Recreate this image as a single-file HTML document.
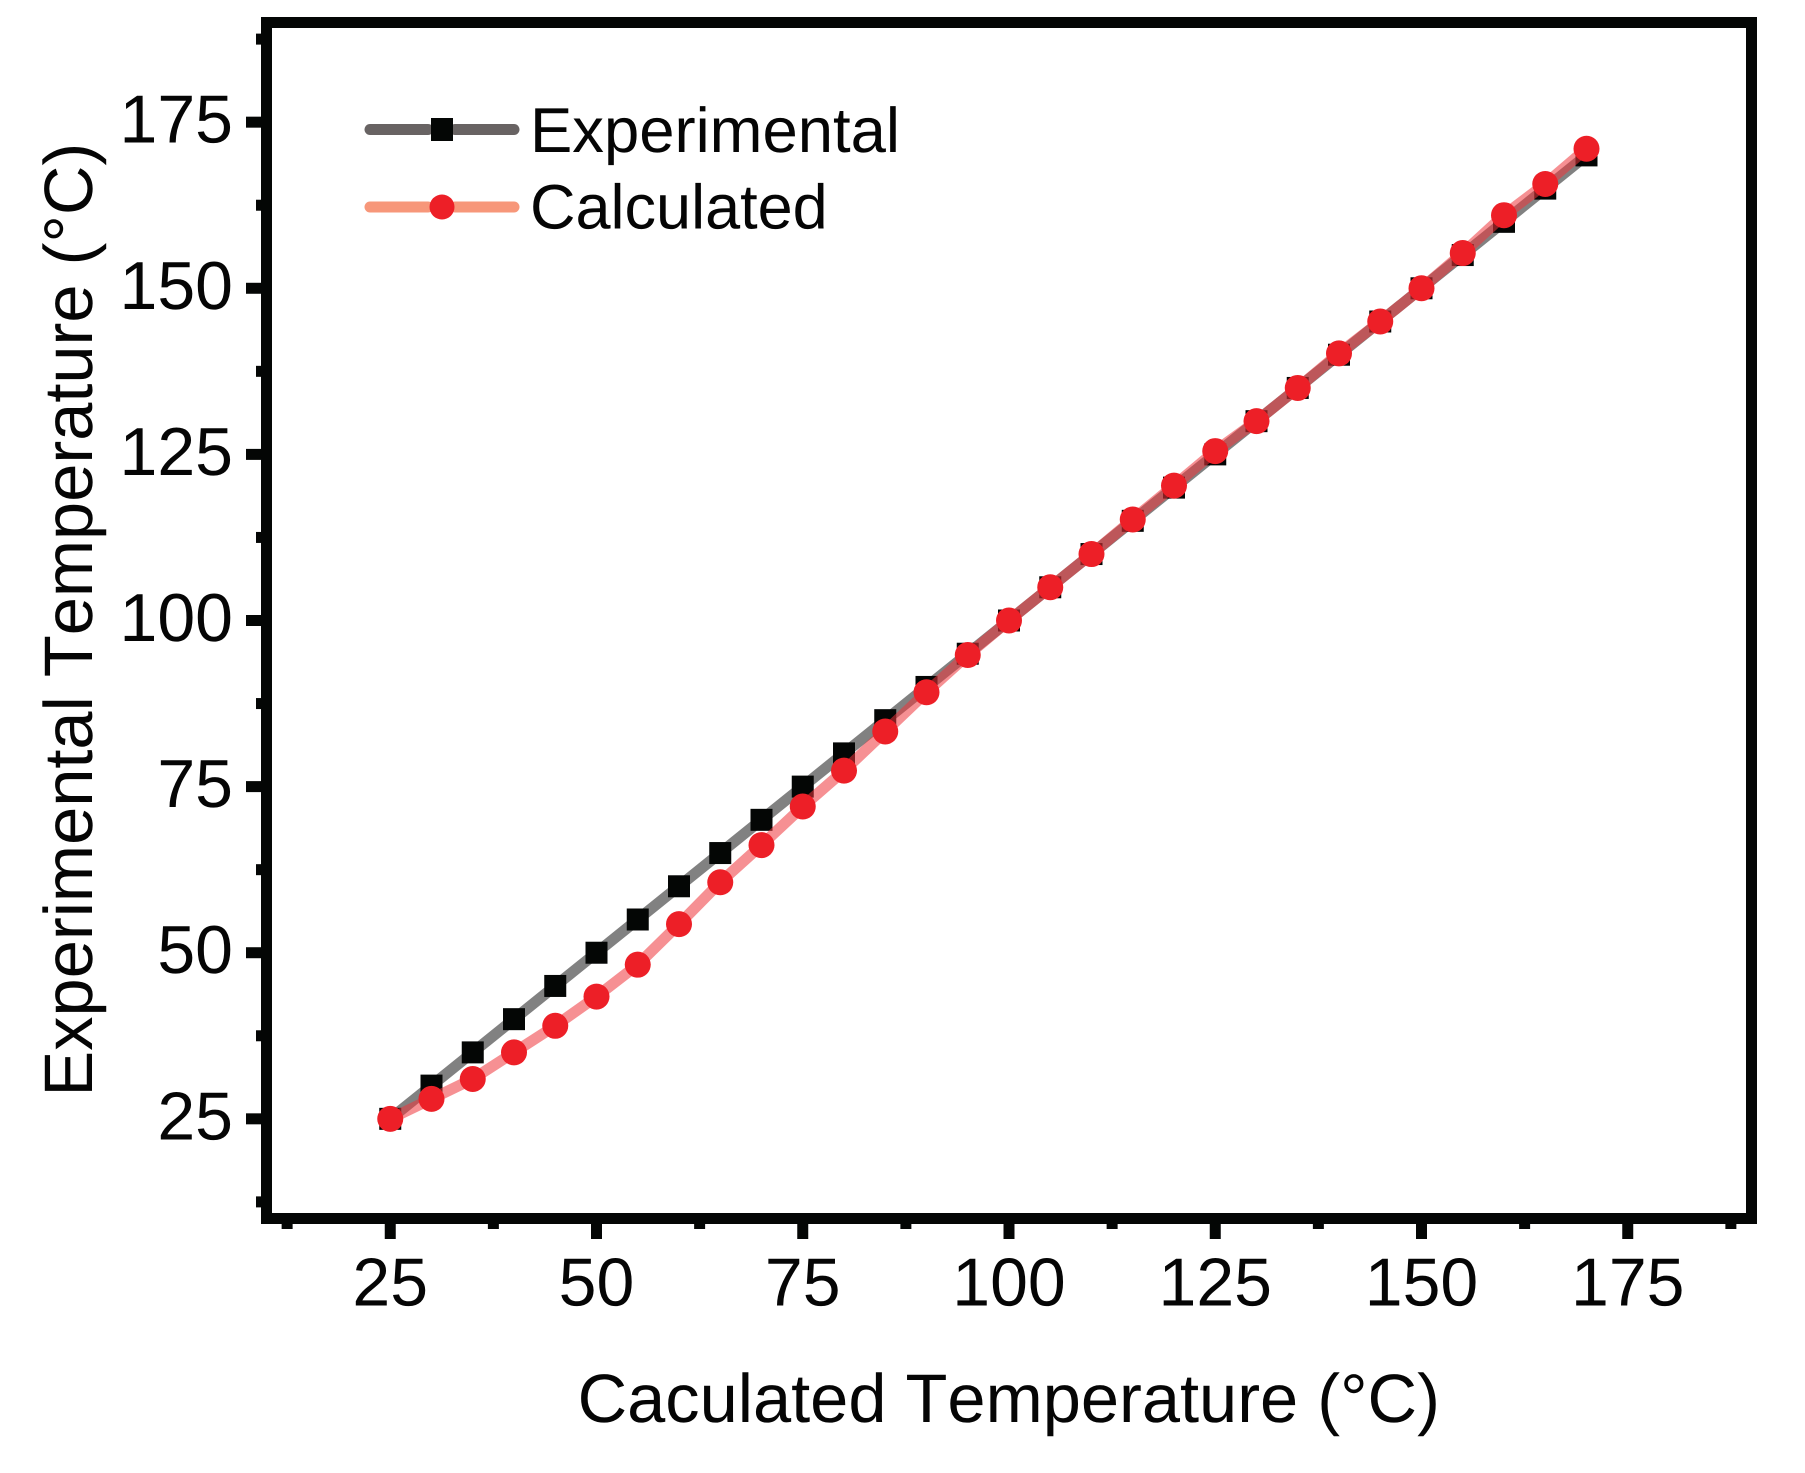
<!DOCTYPE html>
<html lang="en">
<head>
<meta charset="utf-8">
<title>Experimental vs Calculated Temperature</title>
<style>
html,body{margin:0;padding:0;background:#fff;}
svg{display:block;}
text{font-family:"Liberation Sans",Arial,sans-serif;fill:#050505;font-kerning:none;text-rendering:geometricPrecision;}
</style>
</head>
<body>
<svg id="chart" xmlns="http://www.w3.org/2000/svg" width="1805" height="1473" viewBox="0 0 1805 1473"></svg>
<script>
const temperatures = [25,30,35,40,45,50,55,60,65,70,75,80,85,90,95,100,105,110,115,120,125,130,135,140,145,150,155,160,165,170];
const experimental = [25,30,35,40,45,50,55,60,65,70,75,80,85,90,95,100,105,110,115,120,125,130,135,140,145,150,155,160,165,170];
const calculated = [25,28,31,35,39,43.4,48.2,54.3,60.6,66.2,72,77.4,83.3,89.2,94.8,100,105,110,115.2,120.3,125.5,130,135,140.2,145,150,155.3,161,165.7,171];
const majorTicks = [25,50,75,100,125,150,175];
const minorTicks = [12.5,37.5,62.5,87.5,112.5,137.5,162.5,187.5];
const axisMin = 10;
const axisMax = 190;

const NS = 'http://www.w3.org/2000/svg';
const svg = document.getElementById('chart');
const left = 266.5, right = 1751.5, top_ = 22.5, bottom = 1218.5;
const INK = '#040605';

function xScale(v){ return left + (v - axisMin) / (axisMax - axisMin) * (right - left); }
function yScale(v){ return bottom - (v - axisMin) / (axisMax - axisMin) * (bottom - top_); }
function make(tag, attrs){
  const el = document.createElementNS(NS, tag);
  for (const k in attrs) el.setAttribute(k, attrs[k]);
  svg.appendChild(el);
  return el;
}
function polyPoints(values){
  return temperatures.map((t, i) => xScale(t) + ',' + yScale(values[i])).join(' ');
}

/* ticks */
majorTicks.forEach(v => {
  const tx = make('line', {x1:xScale(v), x2:xScale(v), y1:1224, y2:1239, stroke:INK, 'stroke-width':11});
  
  
  const ty = make('line', {x1:246, x2:261, y1:yScale(v), y2:yScale(v), stroke:INK, 'stroke-width':11});
  
  
  const lx = make('text', {x:xScale(v), y:1305.5, 'font-size':68, 'text-anchor':'middle'});
  lx.textContent = String(v);
  
  
  const ly = make('text', {x:233, y:yScale(v)+20.5, 'font-size':68, 'text-anchor':'end'});
  ly.textContent = String(v);
  
  
});
minorTicks.forEach(v => {
  const tx = make('line', {x1:xScale(v), x2:xScale(v), y1:1224, y2:1229, stroke:INK, 'stroke-width':11});
  
  
  const ty = make('line', {x1:256, x2:261, y1:yScale(v), y2:yScale(v), stroke:INK, 'stroke-width':11});
  
  
});

/* experimental series */
const expLine = make('polyline', {points:polyPoints(experimental), fill:'none', stroke:'#040404', 'stroke-opacity':0.5, 'stroke-width':11, 'stroke-linejoin':'round'});


temperatures.forEach((t, i) => {
  const s = make('rect', {x:xScale(t)-11, y:yScale(experimental[i])-11, width:22, height:22, fill:INK});
  
  
});

/* calculated series */
const calcLine = make('polyline', {points:polyPoints(calculated), fill:'none', stroke:'#ee353b', 'stroke-opacity':0.55, 'stroke-width':11, 'stroke-linejoin':'round'});


temperatures.forEach((t, i) => {
  const c = make('circle', {cx:xScale(t), cy:yScale(calculated[i]), r:13, fill:'#ed1f27'});
  
  
});

/* frame */
const frame = make('rect', {x:left, y:top_, width:right-left, height:bottom-top_, fill:'none', stroke:INK, 'stroke-width':11});



/* legend */
const l1a = make('line', {x1:370, x2:428, y1:129.5, y2:129.5, stroke:'#686363', 'stroke-width':11, 'stroke-linecap':'round'});


const l1b = make('line', {x1:455, x2:514, y1:129.5, y2:129.5, stroke:'#686363', 'stroke-width':11, 'stroke-linecap':'round'});


const l1m = make('rect', {x:431, y:118, width:22, height:23, fill:INK});


const l1t = make('text', {x:530, y:152, 'font-size':63.4});
l1t.textContent = 'Experimental';



const l2a = make('line', {x1:370, x2:428, y1:207, y2:207, stroke:'#f7977a', 'stroke-width':11, 'stroke-linecap':'round'});


const l2b = make('line', {x1:455, x2:514, y1:207, y2:207, stroke:'#f7977a', 'stroke-width':11, 'stroke-linecap':'round'});


const l2m = make('circle', {cx:442, cy:207, r:12.5, fill:'#ed1f27'});


const l2t = make('text', {x:530, y:228.5, 'font-size':63});
l2t.textContent = 'Calculated';



/* axis titles */
const xTitle = make('text', {x:577.6, y:1422, 'font-size':68.6});
xTitle.textContent = 'Caculated Temperature (°C)';



const yTitle = make('text', {x:0, y:0, 'font-size':68.6, transform:'translate(92,1096.5) rotate(-90)'});
yTitle.textContent = 'Experimental Temperature (°C)';


</script>
</body>
</html>
